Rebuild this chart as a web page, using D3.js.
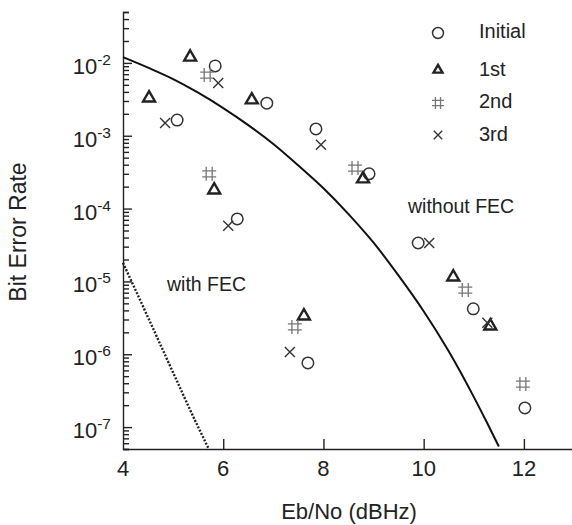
<!DOCTYPE html>
<html>
<head>
<meta charset="utf-8">
<script src="https://cdn.jsdelivr.net/npm/d3@7"></script>
<style>
  body { margin: 0; background: #fff; }
  text { font-family: "Liberation Sans", Arial, sans-serif; fill: #222; }
</style>
</head>
<body>
<svg id="chart" width="572" height="525"></svg>
<script>
// measured points, one array pair per retransmission round
var initialX = [5.08, 5.84, 6.28, 6.87, 7.69, 7.85, 8.91, 9.89, 10.99, 12.02]
var initialY = [1.64e-3, 9.1e-3, 7.2e-5, 2.8e-3, 7.6e-7, 1.24e-3, 3.0e-4, 3.37e-5, 4.2e-6, 1.83e-7]
var firstX = [4.52, 5.34, 5.82, 6.57, 7.61, 8.79, 10.59, 11.33]
var firstY = [3.3e-3, 1.2e-2, 1.8e-4, 3.1e-3, 3.35e-6, 2.55e-4, 1.15e-5, 2.44e-6]
var secondX = [5.68, 5.72, 7.43, 8.63, 10.83, 11.98]
var secondY = [6.8e-3, 3.0e-4, 2.37e-6, 3.6e-4, 7.6e-6, 3.9e-7]
var thirdX = [4.84, 5.90, 6.10, 7.33, 7.95, 10.11, 11.27]
var thirdY = [1.5e-3, 5.3e-3, 5.8e-5, 1.07e-6, 7.5e-4, 3.37e-5, 2.7e-6]

// theory curves
var noFecX = [4, 4.5, 5, 5.5, 6, 6.5, 7, 7.5, 8, 8.5, 9, 9.5, 10, 10.5, 11, 11.25, 11.5]
var noFecY = [1.2e-2, 8.6e-3, 6.0e-3, 3.9e-3, 2.4e-3, 1.4e-3, 7.7e-4, 3.9e-4, 1.9e-4, 8.4e-5, 3.4e-5, 1.2e-5, 3.9e-6, 1.1e-6, 2.6e-7, 1.2e-7, 5.4e-8]
var fecX = [4, 4.5, 5, 5.5, 5.7]
var fecY = [1.8e-5, 3.2e-6, 5.6e-7, 1.0e-7, 5.2e-8]

var xTicks = [4, 6, 8, 10, 12]
var yMajor = [1e-7, 1e-6, 1e-5, 1e-4, 1e-3, 1e-2]
var legendNames = ['Initial', '1st', '2nd', '3rd']

var svg = d3.select('#chart')

var x = d3.scaleLinear().domain([4, 12.96]).range([123, 572])
var y = d3.scaleLog().domain([5e-8, 5e-2]).range([449, 12])

// minor ticks 2..9 in every decade
var yMinor = []
for (var e = -8; e <= -2; e++) {
    for (var k = 2; k <= 9; k++) {
        var v = k * Math.pow(10, e)
        if (v >= 5e-8 * 0.999 && v <= 5e-2 * 1.001) yMinor.push(v)
    }
}

// y axis, ticks pointing inward
var yAxisMinor = svg.append('g').attr('transform', 'translate(123,0)')
    .call(d3.axisRight(y).tickValues(yMinor).tickSize(6).tickFormat(''))
var yAxisMajor = svg.append('g').attr('transform', 'translate(123,0)')
    .call(d3.axisRight(y).tickValues(yMajor).tickSize(9).tickFormat(''))
yAxisMajor.select('.domain').remove()

// x axis, ticks pointing up
var xAxis = svg.append('g').attr('transform', 'translate(0,449)')
    .call(d3.axisTop(x).tickValues(xTicks.slice(1)).tickSize(10).tickFormat('').tickSizeOuter(0))

svg.selectAll('.domain, .tick line').attr('stroke', '#222').attr('stroke-width', 1.4)

// tick labels
svg.append('g').selectAll('text').data(xTicks).enter().append('text')
    .attr('x', d => x(d))
    .attr('y', 476)
    .attr('text-anchor', 'middle')
    .style('font-size', '22px')
    .text(d => d)

var yLab = svg.append('g').selectAll('text').data(yMajor).enter().append('text')
    .attr('x', 111)
    .attr('y', d => y(d) + 11)
    .attr('text-anchor', 'end')
yLab.append('tspan').style('font-size', '22px').text('10')
yLab.append('tspan').style('font-size', '15.5px').attr('dy', -9).text(d => Math.round(Math.log10(d)))

// axis titles
svg.append('text')
    .attr('x', 349).attr('y', 519)
    .attr('text-anchor', 'middle')
    .style('font-size', '22px')
    .text('Eb/No (dBHz)')

svg.append('text')
    .attr('transform', 'translate(26,232) rotate(-90)')
    .attr('text-anchor', 'middle')
    .style('font-size', '23px')
    .text('Bit Error Rate')

// curves
var line = d3.line()
    .x(d => x(d[0]))
    .y(d => y(d[1]))
    .curve(d3.curveMonotoneX)

svg.append('path')
    .attr('d', line(d3.zip(noFecX, noFecY)))
    .attr('fill', 'none')
    .attr('stroke', '#111')
    .attr('stroke-width', 2)

svg.append('path')
    .attr('d', line(d3.zip(fecX, fecY)))
    .attr('fill', 'none')
    .attr('stroke', '#222')
    .attr('stroke-width', 2.4)
    .attr('stroke-dasharray', '2,1.6')

svg.append('text').attr('x', 408).attr('y', 213).style('font-size', '19.5px').text('without FEC')
svg.append('text').attr('x', 167).attr('y', 291).style('font-size', '19.5px').text('with FEC')

// marker shapes
var shapes = [
    { d: d3.symbol(d3.symbolCircle, 104)(), stroke: '#333', width: 1.5, legendScale: 0.95 },
    { d: d3.symbol(d3.symbolTriangle, 62)(), stroke: '#222', width: 2.4, legendScale: 0.75 },
    { d: 'M-3,-7V7M3,-7V7M-7,-3H7M-7,3H7', stroke: '#777', width: 1.3, legendScale: 0.85 },
    { d: 'M-5,-5L5,5M-5,5L5,-5', stroke: '#333', width: 1.4, legendScale: 0.85 }
]

var series = [
    d3.zip(initialX, initialY),
    d3.zip(firstX, firstY),
    d3.zip(secondX, secondY),
    d3.zip(thirdX, thirdY)
]

series.forEach((pts, i) => {
    svg.append('g').selectAll('path').data(pts).enter().append('path')
        .attr('d', shapes[i].d)
        .attr('transform', d => `translate(${x(d[0])},${y(d[1])})`)
        .attr('fill', 'none')
        .attr('stroke', shapes[i].stroke)
        .attr('stroke-width', shapes[i].width)
        .attr('stroke-linejoin', 'miter')
})

// legend
var legendY = [33, 70, 103, 135]
var legendTextY = [38, 76, 108, 141]
var legend = svg.append('g')
legendNames.forEach((name, i) => {
    legend.append('path')
        .attr('d', shapes[i].d)
        .attr('transform', `translate(438,${legendY[i]}) scale(${shapes[i].legendScale})`)
        .attr('fill', 'none')
        .attr('stroke', shapes[i].stroke)
        .attr('stroke-width', shapes[i].width / shapes[i].legendScale)
    legend.append('text')
        .attr('x', 479).attr('y', legendTextY[i])
        .style('font-size', '20px')
        .text(name)
})
</script>
</body>
</html>
